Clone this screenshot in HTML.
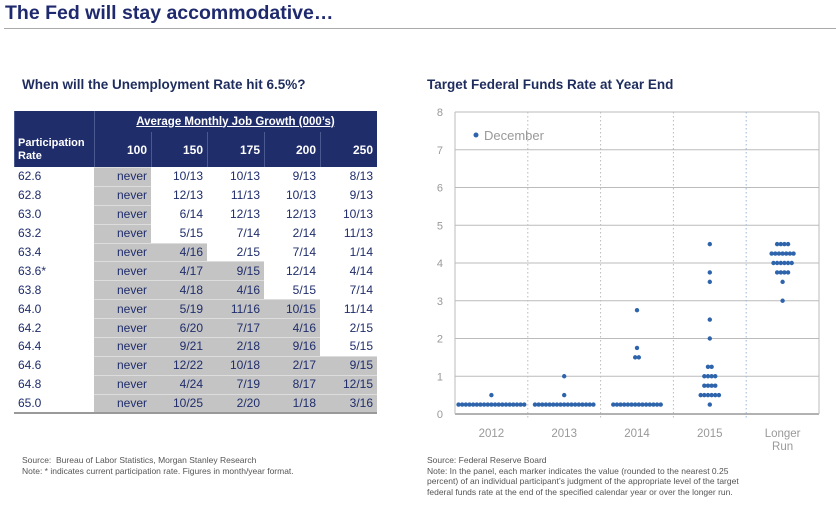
<!DOCTYPE html>
<html><head><meta charset="utf-8"><style>
body{margin:0;width:836px;height:517px;background:#fff;font-family:"Liberation Sans",sans-serif;position:relative;overflow:hidden}
.abs{position:absolute}
#title{left:5px;top:2px;font-size:19.5px;font-weight:bold;color:#1f2a6e;white-space:nowrap}
#rule{left:4px;top:28px;width:832px;height:1px;background:#aaa}
.sub{font-size:13.5px;font-weight:bold;color:#1f2d5e;white-space:nowrap}
table{border-collapse:collapse;border-spacing:0;position:absolute;left:14px;top:111px;width:363px;font-size:12px;table-layout:fixed}
td{padding:0 4px;text-align:right;color:#1f2d6b;border:0;box-sizing:border-box;line-height:12px}
tbody td{height:18.9px}
td:first-child{text-align:left}
.h td{background:#1f2d6b;color:#fff;font-weight:bold;box-shadow:inset 1px 0 0 #4a5a90}
.g{background:#c4c4c4;box-shadow:inset 0 1px 0 #ddd}
.note{font-size:8.5px;color:#555;line-height:10.5px;white-space:nowrap}
</style></head><body>
<div id="title" class="abs">The Fed will stay accommodative…</div>
<div id="rule" class="abs"></div>
<div class="abs sub" style="left:22px;top:77px">When will the Unemployment Rate hit 6.5%?</div>
<div class="abs sub" style="left:427px;top:77px">Target Federal Funds Rate at Year End</div>

<table>
<colgroup><col style="width:80px"><col style="width:57px"><col style="width:56px"><col style="width:57px"><col style="width:56px"><col style="width:57px"></colgroup>
<thead>
<tr class="h"><td style="height:21px"></td><td colspan="5" style="height:21px;text-align:center;text-decoration:underline;font-size:11.5px">Average Monthly Job Growth (000’s)</td></tr>
<tr class="h"><td style="height:35px;line-height:13px;font-size:11px">Participation<br>Rate</td><td>100</td><td>150</td><td>175</td><td>200</td><td>250</td></tr>
</thead>
<tbody id="tb"></tbody>
</table>
<div style="position:absolute;left:14px;top:412px;width:363px;height:2px;background:#999"></div>

<svg class="abs" style="left:420px;top:100px" width="416" height="360" id="chart"></svg>

<div class="abs note" style="left:22px;top:455px">Source:&nbsp; Bureau of Labor Statistics, Morgan Stanley Research<br>Note: * indicates current participation rate. Figures in month/year format.</div>
<div class="abs note" style="left:427px;top:455px">Source: Federal Reserve Board<br>Note: In the panel, each marker indicates the value (rounded to the nearest 0.25<br>percent) of an individual participant’s judgment of the appropriate level of the target<br>federal funds rate at the end of the specified calendar year or over the longer run.</div>

<script>
const rates=["62.6","62.8","63.0","63.2","63.4","63.6*","63.8","64.0","64.2","64.4","64.6","64.8","65.0"];
const c100=["never","never","never","never","never","never","never","never","never","never","never","never","never"];
const c150=["10/13","12/13","6/14","5/15","4/16","4/17","4/18","5/19","6/20","9/21","12/22","4/24","10/25"];
const c175=["10/13","11/13","12/13","7/14","2/15","9/15","4/16","11/16","7/17","2/18","10/18","7/19","2/20"];
const c200=["9/13","10/13","12/13","2/14","7/14","12/14","5/15","10/15","4/16","9/16","2/17","8/17","1/18"];
const c250=["8/13","9/13","10/13","11/13","1/14","4/14","7/14","11/14","2/15","5/15","9/15","12/15","3/16"];
const shadeStart=[0,4,5,7,10];
const tb=document.getElementById('tb');
rates.forEach((r,i)=>{
 const tr=document.createElement('tr');
 
 
 const cols=[c100,c150,c175,c200,c250];
 let h='<td>'+r+'</td>';
 cols.forEach((c,j)=>{h+='<td'+(i>=shadeStart[j]?' class="g"':'')+'>'+c[i]+'</td>';});
 tr.innerHTML=h;tb.appendChild(tr);
});

const cats=["2012","2013","2014","2015","Longer Run"];
const dots2012=[0.25,0.25,0.25,0.25,0.25,0.25,0.25,0.25,0.25,0.25,0.25,0.25,0.25,0.25,0.25,0.25,0.25,0.25,0.25,0.5];
const dots2013=[0.25,0.25,0.25,0.25,0.25,0.25,0.25,0.25,0.25,0.25,0.25,0.25,0.25,0.25,0.25,0.25,0.25,0.5,1.0];
const dots2014=[0.25,0.25,0.25,0.25,0.25,0.25,0.25,0.25,0.25,0.25,0.25,0.25,0.25,0.25,1.5,1.5,1.75,2.75];
const dots2015=[0.25,0.5,0.5,0.5,0.5,0.5,0.5,0.75,0.75,0.75,0.75,1.0,1.0,1.0,1.0,1.25,1.25,2.0,2.5,3.5,3.75,4.5];
const dotsLR=[3.0,3.5,3.75,3.75,3.75,3.75,4.0,4.0,4.0,4.0,4.0,4.0,4.25,4.25,4.25,4.25,4.25,4.25,4.25,4.5,4.5,4.5,4.5];
const series=[dots2012,dots2013,dots2014,dots2015,dotsLR];
const yTicks=[0,1,2,3,4,5,6,7,8];

const NS='http://www.w3.org/2000/svg';
const svg=document.getElementById('chart');
const X0=35,X1=399,Y0=314,Y1=12;
const y=v=>Y0-(v/8)*(Y0-Y1);
const bw=(X1-X0)/cats.length;
const cx=i=>X0+bw*(i+0.5);
function el(t,a){const e=document.createElementNS(NS,t);for(const k in a)e.setAttribute(k,a[k]);svg.appendChild(e);return e;}
yTicks.forEach(t=>{
 const l=el('line',{x1:X0,x2:X1,y1:y(t),y2:y(t),stroke:t==0?'#999':'#bbb','stroke-width':t==0?1.5:1});
 
 
 const tx=el('text',{x:X0-12,y:y(t)+4,'text-anchor':'end','font-size':11,fill:'#999'});
 tx.textContent=t;
 
 
});
el('line',{x1:X0,x2:X0,y1:Y1,y2:Y0,stroke:'#bbb'});
el('line',{x1:X1,x2:X1,y1:Y1,y2:Y0,stroke:'#bbb'});
for(let i=1;i<cats.length;i++){
 const xx=X0+bw*i;
 const d=el('line',{x1:xx,x2:xx,y1:Y1,y2:Y0+5,stroke:i==4?'#9bb8d8':'#bbb','stroke-dasharray':'1.5,2.5'});
 
 
}
cats.forEach((c,i)=>{
 const parts=c=="Longer Run"?["Longer","Run"]:[c];
 parts.forEach((p,k)=>{
  const t=el('text',{x:cx(i),y:Y0+23+k*13,'text-anchor':'middle','font-size':11.5,fill:'#999'});
  t.textContent=p;
  
  
 });
});
const sp=3.65;
series.forEach((s,i)=>{
 const counts={};s.forEach(v=>counts[v]=(counts[v]||0)+1);
 Object.keys(counts).forEach(v=>{
  const n=counts[v];
  for(let k=0;k<n;k++){
   const c=el('circle',{cx:cx(i)+(k-(n-1)/2)*sp,cy:y(+v),r:2.2,fill:'#2e64ab'});
   
   
  }
 });
});
const ld=el('circle',{cx:56,cy:35,r:2.5,fill:'#2e64ab'});


const lt=el('text',{x:64,y:40,'font-size':13,fill:'#999'});
lt.textContent='December';


</script>
</body></html>
